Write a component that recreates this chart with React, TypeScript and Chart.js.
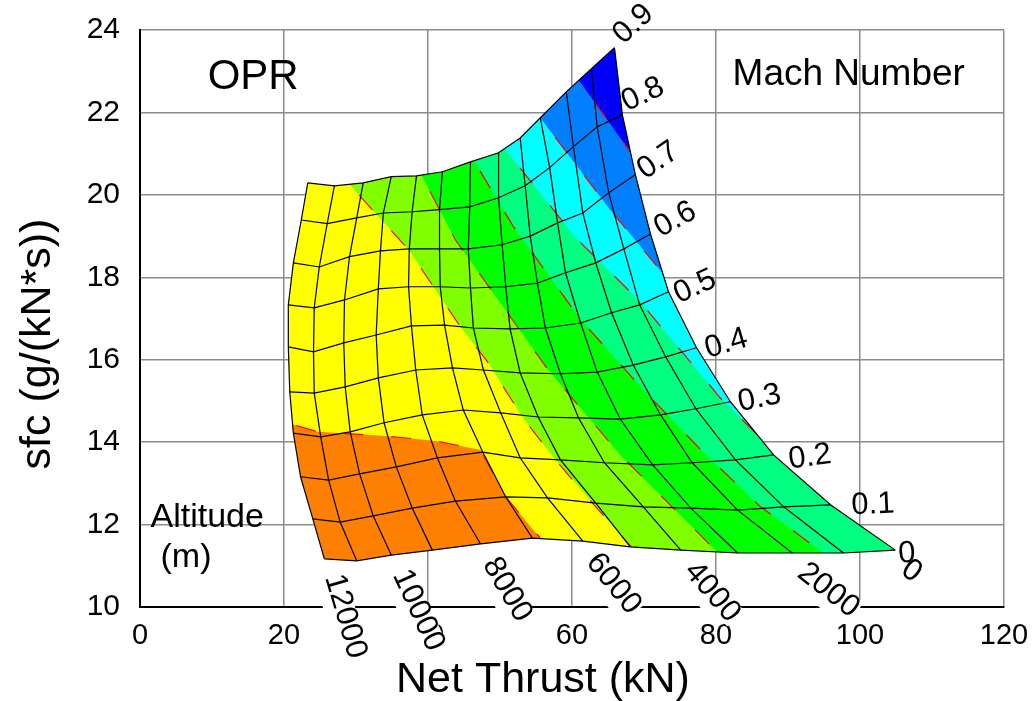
import React, { useEffect, useRef } from 'react';
import { Chart, registerables } from 'chart.js';

Chart.register(...registerables);

const FONT = "'Liberation Sans', Arial, Helvetica, sans-serif";

// Carpet grid: altitude lines (m) and flight Mach number lines
const ALTITUDES_M = [0, 1000, 2000, 3000, 4000, 5000, 6000, 7000, 8000, 9000, 10000, 11000, 12000];
const MACH_NUMBERS = [0, 0.1, 0.2, 0.3, 0.4, 0.5, 0.6, 0.7, 0.8, 0.9];

// Net thrust (kN): one row per Mach number, one column per altitude
const THRUST_KN = [
  [104.9, 97.7, 90.6, 83.0, 75.1, 68.1, 61.5, 54.5, 47.3, 40.6, 34.9, 30.1, 25.6],
  [95.9, 89.4, 83.0, 76.5, 69.9, 63.3, 56.6, 50.8, 43.8, 37.8, 32.4, 27.8, 24.0],
  [88.0, 82.7, 76.7, 71.2, 64.5, 58.4, 52.8, 47.6, 41.3, 35.6, 30.5, 26.2, 22.3],
  [82.0, 77.2, 72.3, 66.7, 60.9, 55.3, 50.1, 44.9, 39.2, 33.9, 29.2, 25.1, 21.3],
  [77.3, 73.0, 68.5, 63.5, 58.4, 52.8, 47.7, 43.4, 38.3, 33.1, 28.5, 24.2, 20.8],
  [73.4, 69.4, 65.5, 61.2, 56.3, 51.4, 46.3, 42.3, 37.7, 32.8, 28.3, 24.1, 20.6],
  [70.9, 67.2, 63.3, 59.1, 55.2, 50.8, 45.9, 41.7, 37.3, 33.1, 28.4, 24.2, 20.6],
  [68.8, 65.1, 61.5, 58.0, 54.2, 50.3, 45.6, 41.6, 37.4, 33.4, 29.1, 24.9, 21.3],
  [67.0, 63.5, 60.2, 56.9, 53.5, 49.8, 45.8, 41.6, 37.8, 33.8, 30.1, 26.0, 22.4],
  [65.9, 62.7, 59.2, 55.6, 52.8, 49.8, 45.9, 42.0, 38.4, 34.9, 31.0, 27.0, 23.3],
];

// Specific fuel consumption (g/(kN*s)), same layout as THRUST_KN
const SFC = [
  [11.38, 11.31, 11.31, 11.31, 11.38, 11.46, 11.60, 11.67, 11.53, 11.38, 11.26, 11.12, 11.17],
  [12.48, 12.43, 12.35, 12.40, 12.43, 12.52, 12.65, 12.67, 12.57, 12.40, 12.21, 12.06, 12.14],
  [13.69, 13.57, 13.50, 13.45, 13.50, 13.57, 13.62, 13.76, 13.62, 13.40, 13.23, 13.08, 13.16],
  [14.98, 14.81, 14.66, 14.56, 14.59, 14.61, 14.71, 14.78, 14.66, 14.47, 14.25, 14.13, 14.22],
  [16.29, 16.07, 15.87, 15.70, 15.66, 15.68, 15.75, 15.80, 15.75, 15.56, 15.34, 15.19, 15.22],
  [17.65, 17.33, 17.14, 16.89, 16.77, 16.75, 16.77, 16.84, 16.82, 16.60, 16.41, 16.19, 16.31],
  [19.05, 18.69, 18.35, 18.11, 17.86, 17.77, 17.74, 17.77, 17.77, 17.72, 17.45, 17.26, 17.33],
  [20.49, 20.05, 19.56, 19.32, 19.00, 18.79, 18.69, 18.69, 18.69, 18.64, 18.50, 18.25, 18.35],
  [21.94, 21.65, 21.17, 20.66, 20.22, 19.93, 19.71, 19.64, 19.59, 19.56, 19.44, 19.30, 19.39],
  [23.57, 23.06, 22.50, 21.87, 21.38, 21.02, 20.80, 20.56, 20.46, 20.44, 20.29, 20.22, 20.29],
];

// OPR bands, lowest band first
const OPR_COLORS = ['#ff8000', '#ffff00', '#80ff00', '#00ff00', '#00ff80', '#00ffff', '#0080ff', '#0000ff'];

// OPR contour lines separating the bands (thrust kN / sfc pairs)
const OPR_CONTOUR_THRUST = [
  [8.4, 21.3, 24.7, 34.1, 41.0, 47.3, 50.8, 55.6, 58.4],
  [25.9, 29.0, 37.3, 44.5, 48.4, 53.1, 57.7, 63.3, 68.4, 70.9],
  [36.9, 39.2, 43.8, 56.7, 66.7, 80.3, 82.7],
  [43.8, 46.3, 51.9, 61.2, 69.9, 77.9, 86.2, 94.9, 98.0],
  [48.7, 50.8, 60.5, 69.5, 80.6, 90.6, 100.1],
  [53.5, 55.3, 65.3, 73.0, 77.9],
  [59.1, 60.9, 68.1, 72.3],
];
const OPR_CONTOUR_SFC = [
  [14.42, 14.42, 14.25, 14.15, 14.03, 13.81, 12.67, 11.67, 10.9],
  [20.85, 20.27, 18.67, 16.8, 15.92, 14.61, 13.57, 12.43, 11.43, 10.9],
  [21.09, 20.44, 18.91, 15.75, 13.69, 11.31, 10.9],
  [21.58, 20.85, 19.22, 16.97, 15.27, 13.81, 12.43, 11.31, 10.9],
  [21.58, 21.09, 18.96, 17.4, 15.07, 13.33, 13.2],
  [22.31, 21.94, 19.64, 18.01, 17.69],
  [23.16, 22.79, 21.04, 20.85],
];

const X_TICK_STEP = 20;
const Y_TICK_STEP = 2;

// Pixel nudges for the Mach labels, placed beyond the sea-level end of each line
const MACH_LABEL_NUDGE: [number, number][] = [
  [3, 4], [21, 1], [15, 5], [8, 1], [9, 2], [7, 4], [6, -4], [5, -2], [1, -11], [3, -9],
];

type Pt = [number, number];

const carpetPlugin = {
  id: 'carpetDecor',
  beforeDatasetsDraw(chart: any) {
    const { ctx } = chart;
    const xs = chart.scales.x;
    const ys = chart.scales.y;
    const px = (t: number, s: number): Pt => [xs.getPixelForValue(t), ys.getPixelForValue(s)];
    const nA = ALTITUDES_M.length;
    const nM = MACH_NUMBERS.length;

    const outline: Pt[] = [];
    for (let j = nA - 1; j >= 0; j--) outline.push(px(THRUST_KN[0][j], SFC[0][j]));
    for (let i = 1; i < nM; i++) outline.push(px(THRUST_KN[i][0], SFC[i][0]));
    for (let j = 1; j < nA; j++) outline.push(px(THRUST_KN[nM - 1][j], SFC[nM - 1][j]));
    for (let i = nM - 2; i >= 1; i--) outline.push(px(THRUST_KN[i][nA - 1], SFC[i][nA - 1]));

    const contours: Pt[][] = OPR_CONTOUR_THRUST.map((row, k) =>
      row.map((t, n) => px(t, OPR_CONTOUR_SFC[k][n]))
    );

    ctx.save();
    ctx.beginPath();
    outline.forEach(([a, b], k) => (k ? ctx.lineTo(a, b) : ctx.moveTo(a, b)));
    ctx.closePath();
    ctx.clip();
    ctx.fillStyle = OPR_COLORS[0];
    ctx.fill();

    contours.forEach((pts, k) => {
      const first = pts[0];
      const last = pts[pts.length - 1];
      ctx.beginPath();
      pts.forEach(([a, b], n) => (n ? ctx.lineTo(a, b) : ctx.moveTo(a, b)));
      ctx.lineTo(last[0] + 3000, last[1]);
      ctx.lineTo(last[0] + 3000, -3000);
      ctx.lineTo(first[0], -3000);
      ctx.closePath();
      ctx.fillStyle = OPR_COLORS[k + 1];
      ctx.fill();
    });

    ctx.setLineDash([20, 28]);
    ctx.strokeStyle = '#ff0000';
    ctx.lineWidth = 1.2;
    contours.forEach((pts) => {
      ctx.beginPath();
      pts.forEach(([a, b], n) => (n ? ctx.lineTo(a, b) : ctx.moveTo(a, b)));
      ctx.stroke();
    });
    ctx.restore();
  },
  afterDatasetsDraw(chart: any) {
    const { ctx, chartArea } = chart;
    const xs = chart.scales.x;
    const ys = chart.scales.y;
    const px = (t: number, s: number): Pt => [xs.getPixelForValue(t), ys.getPixelForValue(s)];

    ctx.save();
    ctx.fillStyle = '#000';
    ctx.font = `31px ${FONT}`;
    ctx.textAlign = 'left';
    ctx.textBaseline = 'middle';

    // Altitude labels (on a white box) below the static end of every other altitude line
    ALTITUDES_M.forEach((alt, j) => {
      if (alt % 2000 !== 0) return;
      const end = px(THRUST_KN[0][j], SFC[0][j]);
      const prev = px(THRUST_KN[1][j], SFC[1][j]);
      const ang = Math.atan2(end[1] - prev[1], end[0] - prev[0]);
      const text = String(alt);
      const w = ctx.measureText(text).width;
      ctx.save();
      ctx.translate(end[0] + 9, end[1] + 16);
      ctx.rotate(ang);
      ctx.fillStyle = '#fff';
      ctx.fillRect(-1, -12, w + 2, 23);
      ctx.fillRect(0, 0, Math.max(w - 10, 0), 19);
      ctx.fillStyle = '#000';
      ctx.fillText(text, 0, 0);
      ctx.restore();
    });

    // Mach number labels at the sea-level end of each Mach line
    MACH_NUMBERS.forEach((m, i) => {
      const end = px(THRUST_KN[i][0], SFC[i][0]);
      const prev = px(THRUST_KN[i][1], SFC[i][1]);
      const ang = Math.atan2(end[1] - prev[1], end[0] - prev[0]);
      const [dx, dy] = MACH_LABEL_NUDGE[i];
      ctx.save();
      ctx.translate(end[0] + dx, end[1] + dy);
      ctx.rotate(ang);
      ctx.fillText(m === 0 ? '0' : m.toFixed(1), 0, 0);
      ctx.restore();
    });

    // Annotations
    ctx.font = `42px ${FONT}`;
    let p = px(9.4, 22.84);
    ctx.fillText('OPR', p[0], p[1]);
    ctx.font = `37px ${FONT}`;
    p = px(82.3, 22.91);
    ctx.fillText('Mach Number', p[0], p[1]);
    ctx.font = `34px ${FONT}`;
    p = px(1.46, 12.18);
    ctx.fillText('Altitude', p[0], p[1]);
    p = px(2.85, 11.19);
    ctx.fillText('(m)', p[0], p[1]);

    // Axis titles
    ctx.font = `43px ${FONT}`;
    ctx.textAlign = 'center';
    ctx.fillText('Net Thrust (kN)', chartArea.left + 403, chartArea.bottom + 73);
    ctx.save();
    ctx.translate(38, chartArea.top + 314);
    ctx.rotate(-Math.PI / 2);
    ctx.fillText('sfc (g/(kN*s))', 0, 0);
    ctx.restore();
    ctx.restore();
  },
};

export default function App() {
  const canvasRef = useRef<HTMLCanvasElement | null>(null);

  useEffect(() => {
    const canvas = canvasRef.current;
    if (!canvas) return;
    Chart.defaults.font.family = FONT;

    const lineStyle = {
      showLine: true,
      pointRadius: 0,
      pointHoverRadius: 0,
      borderColor: '#000',
      borderWidth: 1.2,
      fill: false,
      tension: 0,
    };

    const machLines = MACH_NUMBERS.map((m, i) => ({
      label: `M ${m}`,
      data: ALTITUDES_M.map((_, j) => ({ x: THRUST_KN[i][j], y: SFC[i][j] })),
      ...lineStyle,
    }));
    const altitudeLines = ALTITUDES_M.map((alt, j) => ({
      label: `${alt} m`,
      data: MACH_NUMBERS.map((_, i) => ({ x: THRUST_KN[i][j], y: SFC[i][j] })),
      ...lineStyle,
    }));

    const chart = new Chart(canvas, {
      type: 'scatter',
      data: { datasets: [...machLines, ...altitudeLines] as any },
      options: {
        responsive: false,
        animation: false,
        devicePixelRatio: 1,
        layout: { padding: { top: 30, right: 28, left: 0, bottom: 0 } },
        plugins: { legend: { display: false }, tooltip: { enabled: false } },
        events: [],
        scales: {
          x: {
            type: 'linear',
            min: 0,
            max: 120,
            ticks: { stepSize: X_TICK_STEP, color: '#000', font: { size: 29 }, padding: 12 },
            grid: { color: '#8c8c8c', lineWidth: 1.5, drawTicks: false },
            border: { color: '#000', width: 2 },
            afterFit: (s: any) => {
              s.height = 94;
              s.paddingLeft = 0;
              s.paddingRight = 0;
            },
          },
          y: {
            type: 'linear',
            min: 10,
            max: 24,
            ticks: { stepSize: Y_TICK_STEP, color: '#000', font: { size: 30 }, padding: 20 },
            grid: { color: '#8c8c8c', lineWidth: 1.5, drawTicks: false },
            border: { color: '#000', width: 2 },
            afterFit: (s: any) => {
              s.width = 140;
              s.paddingTop = 0;
              s.paddingBottom = 0;
            },
          },
        },
      } as any,
      plugins: [carpetPlugin],
    });

    return () => chart.destroy();
  }, []);

  return (
    <div style={{ position: 'absolute', left: 0, top: 0, width: 1032, height: 701, background: '#fff' }}>
      <canvas ref={canvasRef} width={1032} height={701} style={{ display: 'block' }} />
    </div>
  );
}
